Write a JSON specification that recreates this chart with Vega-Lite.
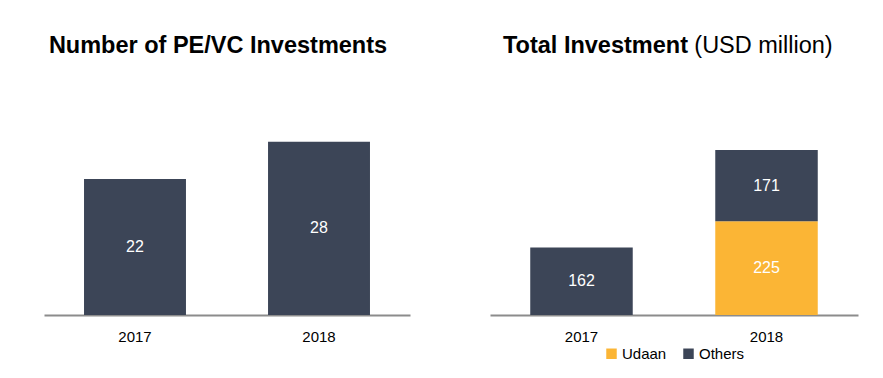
{
  "$schema": "https://vega.github.io/schema/vega-lite/v6.json",
  "padding": {"top": 33, "left": 44, "right": 25, "bottom": 5},
  "background": "white",
  "config": {
    "font": "Liberation Sans",
    "view": {"stroke": null},
    "concat": {"spacing": 80},
    "legend": {"layout": {"bottom": {"anchor": "middle"}}},
    "axisX": {
      "title": null, "labelAngle": 0, "labelFontSize": 15, "labelColor": "#000000",
      "domainColor": "#8c8c8c", "domainWidth": 2, "ticks": false, "labelPadding": 14, "grid": false
    }
  },
  "datasets": {
    "count": [
      {"year": "2017", "value": 22},
      {"year": "2018", "value": 28}
    ],
    "invest": [
      {"year": "2017", "investor": "Others", "value": 162},
      {"year": "2018", "investor": "Udaan", "value": 225},
      {"year": "2018", "investor": "Others", "value": 171}
    ]
  },
  "resolve": {"legend": {"color": "independent"}},
  "hconcat": [
    {
      "width": 366,
      "height": 240,
      "title": {"text": "Number of PE/VC Investments", "fontSize": 23.5, "fontWeight": "bold", "color": "#000000", "anchor": "middle", "dx": -9, "offset": 18},
      "data": {"name": "count"},
      "transform": [
        {"stack": "value", "groupby": ["year"], "as": ["v0", "v1"]},
        {"calculate": "(datum.v0 + datum.v1) / 2", "as": "mid"}
      ],
      "encoding": {
        "x": {"field": "year", "type": "nominal", "scale": {"paddingInner": 0.446, "paddingOuter": 0.2175}}
      },
      "layer": [
        {
          "mark": {"type": "bar", "color": "#3C4557"},
          "encoding": {
            "y": {"field": "v0", "type": "quantitative", "scale": {"domain": [0, 38.8], "nice": false}, "axis": null},
            "y2": {"field": "v1"}
          }
        },
        {
          "mark": {"type": "text", "color": "#ffffff", "fontSize": 16, "baseline": "middle"},
          "encoding": {
            "y": {"field": "mid", "type": "quantitative"},
            "text": {"field": "value"}
          }
        }
      ]
    },
    {
      "width": 368,
      "height": 240,
      "title": {
        "text": "Total Investment",
        "subtitle": "\u200b\u00a0\u00a0\u00a0\u00a0\u00a0\u00a0\u00a0\u00a0\u00a0\u00a0\u00a0\u00a0\u00a0\u00a0\u00a0\u00a0\u00a0\u00a0\u00a0\u00a0\u00a0\u00a0\u00a0\u00a0\u00a0\u00a0\u00a0\u00a0\u00a0\u200a(USD million)",
        "fontSize": 23.5, "fontWeight": "bold", "color": "#000000",
        "subtitleFontSize": 23.5, "subtitleFontWeight": "normal", "subtitleColor": "#000000",
        "subtitlePadding": -23.5,
        "anchor": "start", "dx": 13, "offset": 18
      },
      "data": {"name": "invest"},
      "transform": [
        {"stack": "value", "groupby": ["year"], "sort": [{"field": "investor", "order": "descending"}], "as": ["v0", "v1"]},
        {"calculate": "(datum.v0 + datum.v1) / 2", "as": "mid"}
      ],
      "encoding": {
        "x": {"field": "year", "type": "nominal", "scale": {"paddingInner": 0.446, "paddingOuter": 0.2175}}
      },
      "layer": [
        {
          "mark": {"type": "bar"},
          "encoding": {
            "y": {"field": "v0", "type": "quantitative", "scale": {"domain": [0, 576], "nice": false}, "axis": null},
            "y2": {"field": "v1"},
            "color": {
              "field": "investor", "type": "nominal",
              "scale": {"domain": ["Udaan", "Others"], "range": ["#FBB535", "#3C4557"]},
              "legend": {
                "orient": "bottom", "title": null, "direction": "horizontal",
                "symbolType": "square", "symbolSize": 110, "symbolStrokeWidth": 0,
                "labelFontSize": 15, "labelColor": "#000000", "offset": 2, "columnPadding": 14, "labelOffset": 3
              }
            }
          }
        },
        {
          "mark": {"type": "text", "color": "#ffffff", "fontSize": 16, "baseline": "middle"},
          "encoding": {
            "y": {"field": "mid", "type": "quantitative"},
            "text": {"field": "value"}
          }
        }
      ]
    }
  ]
}
